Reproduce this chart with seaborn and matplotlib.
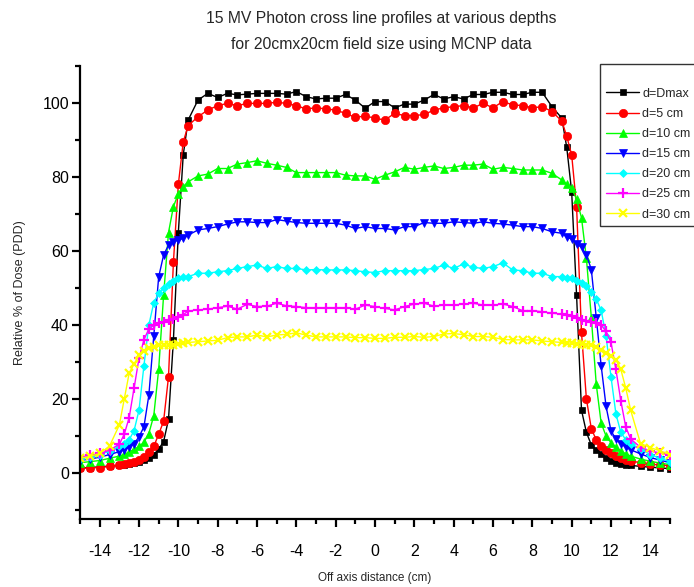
import numpy as np
import pandas as pd
import matplotlib
matplotlib.use("Agg")
import matplotlib.pyplot as plt
import seaborn as sns
from matplotlib.ticker import MultipleLocator

sns.set_theme(style="ticks")
plt.rcParams['font.family'] = ['Liberation Sans', 'DejaVu Sans']

# Off-axis positions (cm)
x_cm = [-15, -14.5, -14, -13.5, -13, -12.75, -12.5, -12.25, -12, -11.75, -11.5, -11.25,
        -11, -10.75, -10.5, -10.25, -10, -9.75,
        -9.5, -9, -8.5, -8, -7.5, -7, -6.5, -6, -5.5, -5, -4.5, -4, -3.5, -3, -2.5, -2,
        -1.5, -1, -0.5, 0, 0.5, 1, 1.5, 2, 2.5, 3, 3.5, 4, 4.5, 5, 5.5, 6, 6.5, 7, 7.5,
        8, 8.5, 9, 9.5,
        9.75, 10, 10.25, 10.5, 10.75, 11, 11.25, 11.5, 11.75, 12, 12.25, 12.5, 12.75, 13,
        13.5, 14, 14.5, 15]

d_dmax = [1.4, 1.5, 1.7, 1.9, 2.1, 2.3, 2.5, 2.8, 3.1, 3.5, 4.1, 5.0, 6.5, 8.5, 14.5, 36, 65, 86,
          95.4, 100.8, 102.6, 101.5, 102.6, 102.2, 102.4, 102.6, 102.6, 102.6, 102.4, 103.1, 101.7,
          101.1, 101.3, 101.3, 102.3, 100.8, 98.6, 100.4, 100.4, 98.7, 99.7, 99.7, 100.8, 102.3,
          101.1, 101.7, 101.1, 102.3, 102.3, 102.9, 102.9, 102.3, 102.3, 102.9, 102.9, 99.0, 95.9,
          88, 76, 48, 17, 11, 7.6, 6.3, 5.2, 4.0, 3.2, 2.8, 2.5, 2.2, 2.1, 1.8, 1.6, 1.4, 1.2]

d_5 = [1.3, 1.4, 1.5, 1.8, 2.1, 2.4, 2.7, 3.1, 3.6, 4.4, 5.6, 7.2, 10.5, 14, 26, 57, 78, 89.5,
       93.9, 96.3, 98.1, 99.3, 99.9, 99.3, 99.9, 99.9, 99.9, 100.2, 99.9, 99.3, 98.4, 98.7, 98.4,
       98.1, 97.2, 96.1, 96.5, 95.9, 95.4, 97.2, 96.6, 96.6, 96.9, 98.1, 98.7, 99.0, 99.3, 98.7,
       99.9, 98.7, 100.4, 99.5, 99.3, 98.7, 99.0, 97.7, 95.1,
       91, 86, 72, 38, 20, 12, 9, 7.4, 6.3, 5.3, 4.6, 4.0, 3.6, 3.3, 2.8, 2.4, 2.2, 2.0]

d_10 = [2.8, 3.1, 3.4, 4.0, 4.6, 5.1, 5.7, 6.4, 7.2, 8.3, 10.7, 15.5, 28, 48, 65, 72, 75.5, 77.4,
        78.7, 80.3, 80.8, 82.3, 82.3, 83.5, 83.9, 84.4, 83.7, 83.2, 82.6, 81.2, 81.2, 81.2, 81.2,
        81.2, 80.5, 80.3, 80.3, 79.4, 80.5, 81.4, 82.6, 82.1, 82.6, 83.0, 82.3, 82.6, 83.2, 83.2,
        83.5, 82.1, 82.6, 82.3, 81.9, 81.9, 81.9, 81.0, 79.2,
        78, 77, 74, 69, 58, 42, 24, 13.5, 10, 8.2, 7.0, 6.0, 5.2, 4.6, 3.8, 3.2, 2.7, 2.3]

d_15 = [3.4, 3.8, 4.3, 5.0, 5.8, 6.3, 7.0, 8.0, 9.8, 12.5, 21, 37, 53, 58.9, 61.6, 62.5, 63.0, 63.4,
        64.3, 65.7, 66.1, 66.6, 67.3, 67.9, 67.9, 67.7, 67.7, 68.5, 68.1, 67.7, 67.5, 67.5, 67.5,
        67.5, 67.0, 66.1, 66.6, 66.1, 66.1, 65.7, 66.6, 66.6, 67.7, 67.5, 67.5, 67.9, 67.7, 67.5,
        67.9, 67.5, 67.3, 67.0, 66.6, 66.6, 66.1, 65.2, 64.8,
        63.8, 63.2, 62, 61, 59, 55, 42, 29, 18, 11.4, 9.2, 8.0, 7.0, 6.3, 5.2, 4.2, 3.5, 2.8]

d_20 = [3.9, 4.3, 5.0, 6.0, 7.2, 8.0, 9.0, 11.5, 17, 29, 40, 46, 48.6, 50, 51, 52, 52.6, 52.9,
        53.1, 54.0, 54.0, 54.4, 54.7, 55.3, 55.8, 56.2, 55.3, 55.8, 55.3, 55.3, 54.9, 55.0, 54.9,
        54.9, 54.9, 54.7, 54.4, 54.2, 54.7, 54.7, 54.7, 54.7, 55.0, 55.3, 56.2, 55.3, 56.5, 55.6,
        55.3, 55.8, 56.8, 54.9, 54.7, 54.0, 54.0, 53.1, 53.1,
        52.8, 52.6, 52, 51.5, 50.5, 49, 47, 44, 37, 26, 16, 11, 9, 8, 6.5, 5.0, 4.0, 3.1]

d_25 = [4.3, 4.8, 5.3, 6.2, 7.8, 10.5, 15, 23, 31, 36, 39, 40, 40.6, 40.9, 41.3, 41.7, 42.2, 42.8,
        43.8, 44.1, 44.3, 44.7, 45.1, 44.3, 45.6, 45.0, 45.1, 45.9, 45.2, 45.0, 44.7, 44.7, 44.7,
        44.7, 44.7, 44.3, 45.4, 45.0, 44.5, 44.1, 45.0, 45.7, 45.9, 45.1, 45.4, 45.4, 45.7, 45.9,
        45.4, 45.4, 45.7, 45.0, 43.9, 43.9, 43.6, 43.2, 43.0,
        42.7, 42.4, 42, 41.5, 41.2, 40.9, 40.6, 40, 38.3, 35.3, 28, 19.5, 12.5, 9.2, 7.0, 6.0, 5.4, 4.9]

d_30 = [4.0, 4.5, 5.3, 7.3, 13, 20, 27, 29.5, 31.8, 33, 33.7, 34.2, 34.5, 34.6, 34.6, 34.7, 35.0, 35.1,
        35.3, 35.5, 35.7, 35.9, 36.6, 36.8, 36.8, 37.3, 36.8, 37.3, 37.5, 37.9, 37.3, 36.8, 36.8,
        36.8, 36.8, 36.6, 36.6, 36.4, 36.4, 36.7, 36.7, 36.9, 36.7, 36.9, 37.6, 37.7, 37.4, 36.9,
        36.9, 36.7, 36.1, 36.0, 36.0, 36.0, 35.7, 35.5, 35.3,
        35.2, 35.1, 35.0, 34.9, 34.7, 34.5, 34.0, 33.3, 32.5, 31.7, 30.6, 28, 23, 17, 8, 6.9, 6.0, 5.0]

series_labels = ["d=Dmax", "d=5 cm", "d=10 cm", "d=15 cm", "d=20 cm", "d=25 cm", "d=30 cm"]
series_values = [d_dmax, d_5, d_10, d_15, d_20, d_25, d_30]
colors = ["#000000", "#FF0000", "#00FF00", "#0000FF", "#00FFFF", "#FF00FF", "#FFFF00"]
markers = ["s", "o", "^", "v", "D", "+", "x"]
msizes = [5, 6, 6, 6, 4.5, 7, 6]

x_ticks = list(range(-14, 15, 2))

fig = plt.figure(figsize=(6.94, 5.87), dpi=100)
ax = fig.add_axes([80/694, 1 - 519/587, 590/694, (519 - 66)/587])

for lab, vals, c, m, ms in zip(series_labels, series_values, colors, markers, msizes):
    df = pd.DataFrame({"x": x_cm, "y": vals})
    mew = 1.6 if m in ("+", "x") else 0.5
    sns.lineplot(data=df, x="x", y="y", ax=ax, color=c, marker=m, markersize=ms,
                 markeredgecolor=c, markerfacecolor=c, markeredgewidth=mew,
                 linewidth=1.0, label=lab, sort=False)

ax.set_xlim(-15, 15)
ax.set_ylim(-12.4, 110)
ax.set_xticks(x_ticks)
ax.set_xticklabels([str(t) for t in x_ticks])
ax.xaxis.set_minor_locator(MultipleLocator(1))
ax.yaxis.set_major_locator(MultipleLocator(20))
ax.yaxis.set_minor_locator(MultipleLocator(10))
for s in ["top", "right"]:
    ax.spines[s].set_visible(False)
for s in ["left", "bottom"]:
    ax.spines[s].set_linewidth(1.6)
    ax.spines[s].set_color("black")
ax.tick_params(which="major", direction="out", length=6, width=1.6, labelsize=11.5,
               colors="black")
ax.tick_params(which="minor", direction="out", length=3.5, width=1.6, colors="black")
ax.tick_params(axis="x", which="major", pad=12)
ax.tick_params(axis="y", which="major", pad=2)
ax.grid(False)

ax.set_xlabel("Off axis distance (cm)", fontsize=8.5, labelpad=9)
ax.set_ylabel("Relative % of Dose (PDD)", fontsize=9, labelpad=12)

fig.text(0.55, 0.968, "15 MV Photon cross line profiles at various depths", ha="center",
         va="center", fontsize=11.3)
fig.text(0.55, 0.925, "for 20cmx20cm field size using MCNP data", ha="center",
         va="center", fontsize=11.3)

leg = ax.legend(loc="upper left", bbox_to_anchor=(600/694, 1 - 64/587),
                bbox_transform=fig.transFigure, fontsize=9, frameon=True, fancybox=False,
                handlelength=2.7, labelspacing=0.65, borderpad=0.45, handletextpad=0.25,
                borderaxespad=0, title=" ", title_fontsize=7)
leg.get_frame().set_edgecolor("black")
leg.get_frame().set_linewidth(1.0)

fig.savefig("out.png", dpi=100)
